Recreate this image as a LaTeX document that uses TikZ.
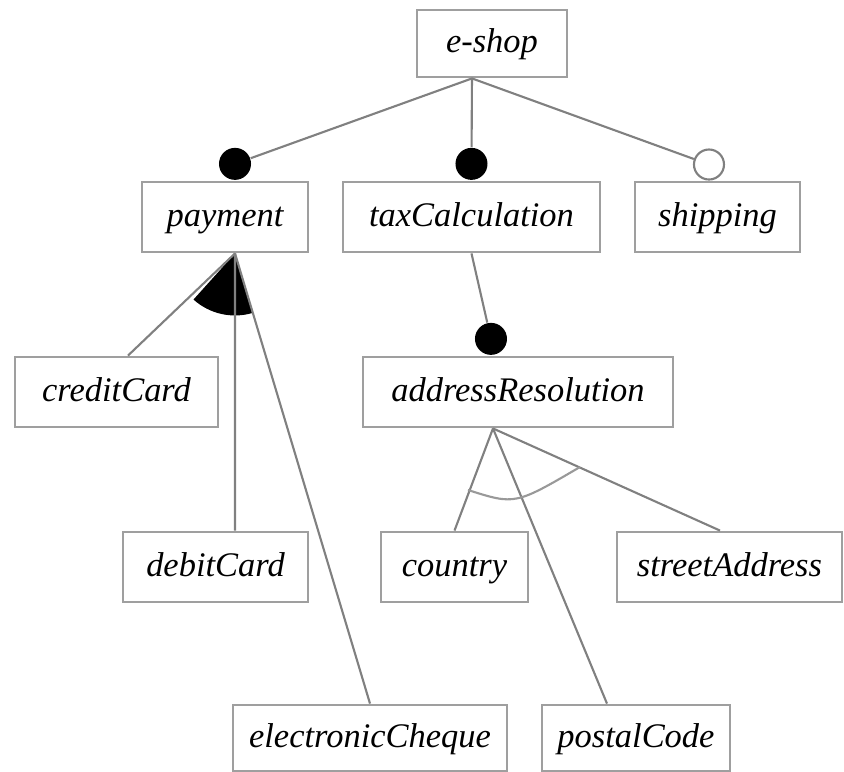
\documentclass[tikz,border=0pt]{standalone}
\usepackage{fontspec}
\setmainfont{Liberation Serif}
\usepackage{tikz}
\tikzstyle{feat}=[rectangle, draw=gray!75, line width=.8pt, inner sep=0pt, minimum height=.7cm, text height=1.6ex, text depth=.45ex, font=\fontsize{9.8}{11}\selectfont\itshape]
\tikzstyle{mand}=[circle, fill=black, inner sep=0pt, minimum size=.32cm]
\tikzstyle{opt}=[circle, draw=gray, fill=white, line width=.6pt, inner sep=0pt, minimum size=.3cm]
\tikzstyle{edge}=[draw=gray, line width=.6pt]

\begin{document}
\begin{tikzpicture}[x=0.01cm, y=-0.01cm]
  \useasboundingbox (0,0) rectangle (844,772);
  % features
  \node[feat, minimum width=1.5cm, minimum height=.67cm] (eshop) at (492,43.5) {e-shop};
  \node[feat, minimum width=1.66cm] (payment) at (225,217) {payment};
  \node[feat, minimum width=2.57cm] (tax) at (471.5,217) {taxCalculation};
  \node[feat, minimum width=1.65cm] (shipping) at (717.5,217) {shipping};
  \node[feat, minimum width=2.03cm] (credit) at (116.5,392) {creditCard};
  \node[feat, minimum width=3.1cm] (addr) at (518,392) {addressResolution};
  \node[feat, minimum width=1.85cm] (debit) at (215.5,567) {debitCard};
  \node[feat, minimum width=1.47cm] (country) at (454.5,567) {country};
  \node[feat, minimum width=2.25cm] (street) at (729.5,567) {streetAddress};
  \node[feat, minimum width=2.74cm, minimum height=.66cm] (cheque) at (370,738) {electronicCheque};
  \node[feat, minimum width=1.88cm, minimum height=.66cm] (postal) at (636,738) {postalCode};

  % where the edges leave a parent
  \coordinate (eshopOut) at ([xshift=-.2cm]eshop.south);
  \coordinate (payOut) at ([xshift=.1cm]payment.south);
  \coordinate (taxOut) at (tax.south);
  \coordinate (addrOut) at ([xshift=-.25cm]addr.south);

  % mandatory / optional marks
  \node[mand, anchor=south] (payDot) at ([xshift=.1cm]payment.north) {};
  \node[mand, anchor=south] (taxDot) at (tax.north) {};
  \node[opt, anchor=south] (shipDot) at ([xshift=-.085cm]shipping.north) {};
  \node[mand, anchor=south] (addrDot) at ([xshift=-.27cm]addr.north) {};

  \draw[edge] (eshopOut) -- (payDot);
  \draw[edge] (eshopOut) -- (taxDot);
  \draw[edge] (eshopOut) -- (shipDot);
  \draw[edge] (taxOut) -- (addrDot);

  % or-group under payment
  \fill (payOut) -- +(228:.62cm) arc[start angle=228, end angle=286.4, radius=.62cm] -- cycle;
  \draw[edge] (payOut) -- ([xshift=.115cm]credit.north);
  \draw[edge] (payOut) -- ([xshift=.195cm]debit.north);
  \draw[edge] (payOut) -- (cheque.north);

  % alternative group under addressResolution
  \draw[edge] (addrOut) -- (country.north);
  \draw[edge] (addrOut) -- ([xshift=-.29cm]postal.north);
  \draw[edge] (addrOut) -- ([xshift=-.095cm]street.north);
  \draw[draw=gray!80, line width=.6pt] (468,490) .. controls (515,505) .. (580,467);
\end{tikzpicture}
\end{document}
